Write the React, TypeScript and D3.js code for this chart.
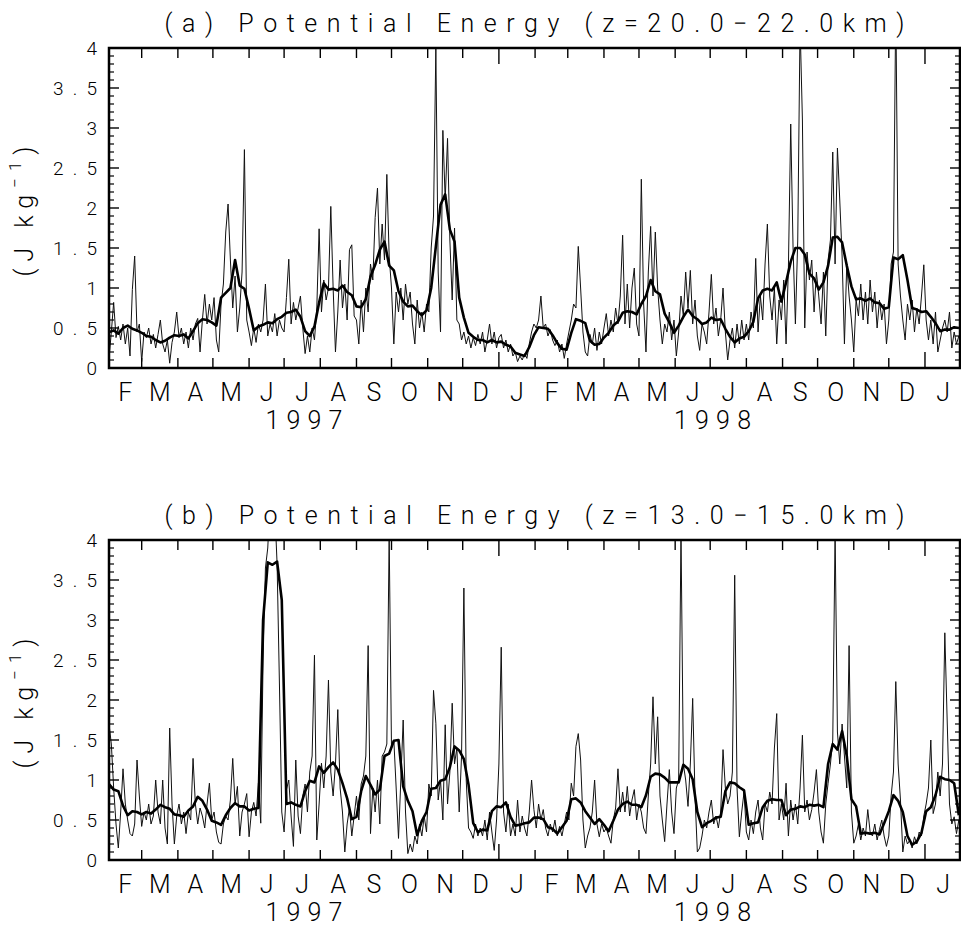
import React from 'react';
import * as d3 from 'd3';

// ---- Time base: samples start 1 Feb 1997 (UTC) ----
const START_MS = Date.UTC(1997, 1, 1);
const END_MS = Date.UTC(1999, 0, 31);
const DAY_MS = 86400000;
const THIN_STEP_DAYS = 2;
const THICK_STEP_DAYS = 4;

// ---- (a) z = 20.0-22.0 km : raw potential energy (2-day samples) ----
const thinA = [
  0.12, 0.45, 0.82, 0.38, 0.52, 0.35, 0.55, 0.3, 0.5, 0.15, 0.98, 1.4, 0.45, 0.55,
  0.08, 0.45, 0.38, 0.5, 0.3, 0.42, 0.25, 0.42, 0.6, 0.3, 0.2, 0.35, 0.06, 0.32, 0.45, 0.7,
  0.38, 0.5, 0.3, 0.45, 0.25, 0.5, 0.35, 0.55, 0.62, 0.2, 0.6, 0.92, 0.55, 0.8, 0.6,
  0.88, 0.35, 0.2, 0.8, 1.05, 1.7, 2.05, 1.35, 0.75, 1.15, 0.45, 0.75, 1.2, 2.73, 0.6,
  0.45, 0.28, 0.5, 0.32, 0.55, 0.45, 0.6, 1.05, 0.4, 0.55, 0.45, 0.68, 0.4, 0.6, 0.5,
  0.45, 0.88, 1.36, 0.55, 0.82, 0.6, 0.75, 0.9, 0.5, 0.18, 0.4, 0.2, 0.5, 0.35, 0.75, 1.74,
  0.7, 1.1, 0.85, 1.0, 2.02, 1.0, 0.2, 0.7, 1.35, 0.75, 1.05, 0.6, 1.48, 1.54, 0.65,
  0.6, 0.3, 0.85, 0.45, 1.0, 0.7, 1.3, 1.1, 1.88, 2.25, 1.3, 1.8, 1.35, 2.42, 1.4,
  1.0, 0.3, 0.95, 0.7, 1.0, 0.6, 1.05, 0.8, 0.95, 0.55, 0.3, 0.85, 0.5, 0.7, 0.45, 0.8,
  0.7, 1.5, 1.9, 4.0, 1.2, 0.45, 2.97, 2.1, 2.87, 1.6, 0.85, 1.75, 0.6, 0.55, 0.35,
  0.45, 0.3, 0.4, 0.25, 0.38, 0.28, 0.42, 0.3, 0.45, 0.2, 0.35, 0.55, 0.3, 0.45, 0.25,
  0.38, 0.42, 0.25, 0.35, 0.2, 0.3, 0.15, 0.2, 0.08, 0.15, 0.1, 0.18, 0.12, 0.3, 0.45, 0.55,
  0.5, 0.6, 0.9, 0.5, 0.55, 0.4, 0.48, 0.35, 0.28, 0.35, 0.2, 0.3, 0.12, 0.3,
  0.45, 0.6, 0.8, 0.75, 1.52, 1.0, 0.45, 0.2, 0.15, 0.42, 0.3, 0.5, 0.22, 0.45, 0.3,
  0.5, 0.68, 0.4, 0.6, 0.45, 0.75, 0.55, 0.9, 1.66, 0.55, 1.05, 0.5, 1.0, 1.25, 0.55,
  0.4, 2.36, 0.8, 0.2, 1.2, 1.77, 0.9, 1.7, 1.0, 0.6, 0.3, 0.55, 0.45, 0.7, 0.35, 0.6,
  0.15, 0.45, 0.9, 0.65, 1.2, 0.75, 1.22, 0.55, 0.85, 0.4, 0.22, 0.55, 0.45, 0.3, 0.7,
  1.17, 0.55, 0.75, 0.4, 0.6, 1.0, 0.45, 0.1, 0.35, 0.5, 0.25, 0.55, 0.3, 0.6, 0.35,
  0.55, 0.35, 0.7, 0.5, 1.37, 0.45, 0.9, 0.6, 1.3, 1.8, 0.9, 0.6, 1.0, 0.3, 0.85, 0.6,
  1.1, 0.3, 1.25, 3.05, 1.5, 0.55, 1.6, 4.3, 3.1, 0.5, 1.45, 1.1, 1.35, 0.7, 1.2,
  0.9, 0.55, 1.2, 0.4, 1.35, 1.6, 2.7, 1.3, 2.75, 2.1, 1.4, 0.3, 1.3, 0.9, 0.6,
  0.2, 0.85, 0.65, 1.05, 0.6, 0.95, 0.55, 1.1, 0.7, 0.95, 0.5, 0.85, 0.6, 0.8, 0.3,
  0.6, 1.3, 1.45, 4.6, 1.3, 0.9, 0.6, 0.35, 0.8, 0.6, 0.85, 0.45, 0.75, 0.55, 0.9, 1.29,
  0.6, 0.35, 0.6, 0.3, 0.7, 0.2, 0.35, 0.5, 0.6, 0.45, 0.7, 0.25, 0.45, 0.3, 0.4,
];

// ---- (a) smoothed curve (4-day samples) ----
const thickA = [
  0.45, 0.47, 0.43, 0.5, 0.53, 0.49, 0.47, 0.44, 0.4, 0.39, 0.35, 0.32, 0.34, 0.38, 0.41,
  0.4, 0.42, 0.37, 0.46, 0.56, 0.61, 0.6, 0.57, 0.53, 0.88, 0.94, 1.0, 1.35, 1.03, 0.99,
  0.74, 0.47, 0.52, 0.54, 0.57, 0.56, 0.61, 0.64, 0.69, 0.7, 0.73, 0.64, 0.46, 0.4, 0.52,
  0.82, 1.06, 0.98, 0.99, 0.97, 1.03, 0.95, 0.91, 0.77, 0.76, 0.86, 1.14, 1.29, 1.48, 1.58,
  1.28, 1.22, 0.96, 0.83, 0.77, 0.78, 0.71, 0.66, 0.72, 1.0, 1.52, 2.04, 2.17, 1.73, 1.58,
  0.88, 0.63, 0.44, 0.39, 0.35, 0.35, 0.32, 0.35, 0.32, 0.33, 0.29, 0.27, 0.19, 0.17, 0.15,
  0.26, 0.41, 0.51, 0.5, 0.49, 0.41, 0.31, 0.24, 0.23, 0.44, 0.61, 0.59, 0.56, 0.34, 0.29,
  0.3, 0.38, 0.44, 0.53, 0.58, 0.69, 0.71, 0.7, 0.67, 0.8, 0.9, 1.1, 0.96, 0.92, 0.68,
  0.57, 0.44, 0.53, 0.64, 0.73, 0.65, 0.61, 0.55, 0.57, 0.63, 0.6, 0.61, 0.49, 0.39, 0.32,
  0.37, 0.39, 0.46, 0.58, 0.87, 0.97, 0.99, 0.97, 1.07, 0.83, 1.07, 1.33, 1.5, 1.5, 1.42,
  1.18, 1.12, 0.98, 1.07, 1.28, 1.63, 1.64, 1.57, 1.28, 1.02, 0.86, 0.87, 0.84, 0.87, 0.82,
  0.81, 0.74, 0.76, 1.38, 1.36, 1.41, 1.1, 0.75, 0.73, 0.7, 0.71, 0.64, 0.56, 0.46, 0.48,
  0.48, 0.51, 0.5,
];

// ---- (b) z = 13.0-15.0 km : raw potential energy (2-day samples) ----
const thinB = [
  1.7, 1.45, 0.9, 0.45, 0.15, 0.6, 1.14, 0.7, 0.5, 0.33, 0.3, 0.45, 1.25, 0.8,
  0.42, 0.6, 0.5, 0.7, 0.45, 0.55, 1.0, 0.6, 0.45, 1.0, 0.4, 0.2, 1.65, 0.7, 0.2, 0.55,
  0.7, 0.45, 0.6, 0.33, 0.6, 0.5, 1.27, 0.7, 0.45, 0.65, 0.55, 0.4, 0.7, 0.96, 0.5,
  0.6, 0.35, 0.22, 0.2, 0.45, 0.55, 0.5, 0.75, 1.27, 0.7, 0.92, 0.3, 0.6, 0.7, 0.83,
  0.29, 0.6, 0.72, 0.55, 0.96, 0.46, 2.5, 3.65, 3.9, 4.5, 4.6, 4.4, 3.7, 2.2, 0.6,
  0.35, 0.88, 1.0, 0.55, 0.17, 1.25, 0.55, 0.33, 0.8, 0.95, 0.6, 1.1, 1.3, 2.56, 0.25, 0.7,
  1.21, 0.9, 1.3, 2.25, 1.1, 0.8, 1.2, 1.88, 0.9, 0.6, 0.1, 0.45, 0.65, 0.3, 0.55,
  0.8, 0.5, 0.95, 1.05, 1.3, 2.68, 0.33, 0.9, 0.6, 1.0, 0.45, 1.3, 1.35, 1.45, 4.05,
  1.4, 1.5, 0.9, 0.27, 1.0, 1.75, 0.6, 0.08, 0.2, 0.1, 0.3, 0.2, 0.45, 0.3, 0.55, 0.35,
  0.95, 0.8, 2.12, 1.71, 0.75, 1.0, 0.5, 1.69, 0.7, 1.1, 1.96, 1.2, 1.4, 0.6, 1.3,
  3.4, 1.0, 0.4, 0.35, 0.27, 0.45, 0.3, 0.4, 0.3, 0.5, 0.25, 0.6, 0.35, 0.12, 0.5,
  1.2, 2.66, 0.6, 0.35, 0.7, 0.3, 0.45, 0.3, 0.75, 0.35, 0.55, 0.4, 0.3, 0.6, 1.0, 0.63,
  0.4, 0.7, 0.5, 0.63, 0.4, 0.3, 0.45, 0.35, 0.5, 0.3, 0.42, 0.3, 0.45, 0.6,
  0.5, 0.96, 0.8, 1.42, 1.58, 1.25, 0.5, 0.15, 0.3, 0.4, 0.6, 1.0, 0.45, 0.29, 0.45,
  0.35, 0.4, 0.3, 0.21, 0.5, 0.65, 1.14, 0.6, 0.85, 0.6, 0.92, 0.55, 0.75, 0.88, 0.5,
  0.7, 0.6, 0.4, 0.33, 0.8, 1.2, 2.04, 1.2, 1.79, 0.8, 0.5, 0.23, 0.7, 1.13, 0.6, 0.33,
  0.9, 1.0, 4.1, 1.2, 1.0, 0.67, 1.2, 2.02, 0.8, 0.1, 0.15, 0.3, 0.5, 0.4, 0.6,
  0.75, 0.45, 0.55, 0.4, 0.6, 1.38, 0.9, 0.7, 0.8, 1.1, 3.56, 0.9, 0.29, 0.6, 0.85,
  0.35, 0.25, 0.5, 0.33, 0.6, 0.75, 0.4, 0.25, 0.7, 0.6, 0.85, 0.7, 1.4, 1.83, 0.5, 0.7,
  0.5, 0.96, 0.3, 0.75, 0.5, 0.7, 0.45, 0.9, 1.56, 0.6, 0.75, 0.5, 0.63, 0.85, 1.13,
  0.6, 0.35, 0.21, 0.7, 0.96, 1.2, 1.5, 4.1, 1.6, 1.2, 1.7, 1.3, 0.9, 2.68, 0.6,
  0.21, 0.3, 0.45, 0.25, 0.4, 0.3, 0.63, 0.35, 0.3, 0.45, 0.25, 0.38, 0.5, 0.3, 0.17,
  0.3, 0.8, 1.1, 2.23, 1.2, 0.75, 0.1, 0.3, 0.2, 0.25, 0.15, 0.29, 0.2, 0.35, 0.3, 0.55,
  0.7, 0.9, 1.5, 0.58, 0.7, 1.1, 0.8, 1.2, 2.84, 1.75, 0.7, 0.45, 0.54, 0.33, 0.5,
];

// ---- (b) smoothed curve (4-day samples) ----
const thickB = [
  0.95, 0.88, 0.86, 0.68, 0.56, 0.61, 0.6, 0.57, 0.6, 0.58, 0.63, 0.69, 0.66, 0.64, 0.57,
  0.56, 0.54, 0.62, 0.67, 0.79, 0.74, 0.63, 0.49, 0.47, 0.44, 0.56, 0.65, 0.71, 0.67, 0.67,
  0.62, 0.64, 0.65, 3.0, 3.72, 3.69, 3.73, 3.25, 0.7, 0.72, 0.69, 0.67, 0.86, 0.99, 0.97,
  1.17, 1.09, 1.16, 1.22, 1.13, 0.96, 0.77, 0.51, 0.54, 0.86, 1.05, 0.94, 0.82, 0.88, 1.3,
  1.33, 1.49, 1.5, 0.92, 0.74, 0.61, 0.31, 0.49, 0.6, 0.89, 0.9, 0.99, 1.01, 1.16, 1.42,
  1.37, 1.26, 0.94, 0.46, 0.35, 0.38, 0.37, 0.61, 0.67, 0.66, 0.72, 0.54, 0.43, 0.44, 0.46,
  0.47, 0.53, 0.53, 0.51, 0.41, 0.39, 0.33, 0.41, 0.49, 0.76, 0.77, 0.72, 0.61, 0.53, 0.45,
  0.51, 0.44, 0.36, 0.49, 0.63, 0.7, 0.73, 0.69, 0.69, 0.66, 0.81, 1.04, 1.08, 1.07, 1.03,
  0.97, 0.97, 0.97, 1.19, 1.14, 1.01, 0.6, 0.41, 0.46, 0.49, 0.53, 0.54, 0.86, 0.97, 0.96,
  0.91, 0.87, 0.44, 0.46, 0.47, 0.66, 0.74, 0.76, 0.75, 0.75, 0.56, 0.63, 0.64, 0.67, 0.66,
  0.69, 0.68, 0.69, 0.66, 1.2, 1.45, 1.38, 1.61, 1.3, 0.76, 0.67, 0.33, 0.34, 0.33, 0.34,
  0.32, 0.46, 0.61, 0.81, 0.74, 0.6, 0.3, 0.19, 0.23, 0.34, 0.61, 0.66, 0.81, 1.04, 1.01,
  1.0, 0.96, 0.56,
];

// ---- Axis labels ----
const monthInitials = ['J', 'F', 'M', 'A', 'M', 'J', 'J', 'A', 'S', 'O', 'N', 'D'];
const yearLabels = [
  { text: '1997', date: Date.UTC(1997, 6, 18) },
  { text: '1998', date: Date.UTC(1998, 6, 3) },
];
const yMajorTicks = [0, 0.5, 1, 1.5, 2, 2.5, 3, 3.5, 4];
const yMinorTicks = d3.range(0, 40).map((k) => k / 10).filter((v) => Math.round(v * 10) % 5 !== 0);

const panels = [
  { id: 'a', title: '(a) Potential Energy (z=20.0\u221222.0km)', top: 48, thin: thinA, thick: thickA },
  { id: 'b', title: '(b) Potential Energy (z=13.0\u221215.0km)', top: 540, thin: thinB, thick: thickB },
];

const W = 961;
const H = 935;
const LEFT = 109;
const RIGHT = 960;
const PLOT_H = 320;
const FONT = "'Roboto', 'Open Sans', 'DejaVu Sans', sans-serif";

const x = d3.scaleUtc().domain([new Date(START_MS), new Date(END_MS)]).range([LEFT, RIGHT]);

const monthStarts = d3.utcMonth.range(new Date(START_MS), new Date(END_MS + DAY_MS));
const boundaryTicks = monthStarts.filter((d) => +d > START_MS);

function Panel({ p }: { p: (typeof panels)[number] }) {
  const top = p.top;
  const bottom = top + PLOT_H;
  const y = d3.scaleLinear().domain([0, 4]).range([bottom, top]);

  const thinLine = d3
    .line<number>()
    .x((_, i) => x(new Date(START_MS + i * THIN_STEP_DAYS * DAY_MS)))
    .y((v) => y(v));
  const thickLine = d3
    .line<number>()
    .x((_, i) => x(new Date(START_MS + i * THICK_STEP_DAYS * DAY_MS)))
    .y((v) => y(v));

  const clipId = `clip-${p.id}`;
  const midY = (top + bottom) / 2;

  return (
    <g>
      <defs>
        <clipPath id={clipId}>
          <rect x={LEFT} y={top} width={RIGHT - LEFT} height={PLOT_H} />
        </clipPath>
      </defs>

      {/* title */}
      <text
        x={(LEFT + RIGHT) / 2}
        y={top - 16}
        textAnchor="middle"
        fontFamily={FONT}
        fontWeight={300}
        fontSize={25}
        textLength={740}
        lengthAdjust="spacing"
        fill="#000"
      >
        {p.title}
      </text>

      {/* data */}
      <g clipPath={`url(#${clipId})`}>
        <path d={thinLine(p.thin) || ''} fill="none" stroke="#111" strokeWidth={1} strokeLinejoin="round" />
        <path d={thickLine(p.thick) || ''} fill="none" stroke="#000" strokeWidth={2.6} strokeLinejoin="round" />
      </g>

      {/* y ticks, both sides, pointing inward */}
      {yMinorTicks.map((v) => (
        <g key={`mn${v}`} stroke="#000" strokeWidth={1.2}>
          <line x1={LEFT} x2={LEFT + 5} y1={y(v)} y2={y(v)} />
          <line x1={RIGHT} x2={RIGHT - 5} y1={y(v)} y2={y(v)} />
        </g>
      ))}
      {yMajorTicks.map((v) => (
        <g key={`mj${v}`} stroke="#000" strokeWidth={1.4}>
          <line x1={LEFT} x2={LEFT + 10} y1={y(v)} y2={y(v)} />
          <line x1={RIGHT} x2={RIGHT - 10} y1={y(v)} y2={y(v)} />
        </g>
      ))}
      {yMajorTicks.map((v) => {
        const s = String(v);
        return (
          <text
            key={`yl${v}`}
            x={97}
            y={y(v)}
            dy="0.36em"
            textAnchor="end"
            fontFamily={FONT}
            fontWeight={300}
            fontSize={19}
            textLength={s.length > 1 ? 44 : undefined}
            lengthAdjust="spacing"
            fill="#000"
          >
            {s}
          </text>
        );
      })}

      {/* x ticks at month boundaries; January boundaries longer */}
      {boundaryTicks.map((d) => {
        const len = d.getUTCMonth() === 0 ? 16 : 10;
        const xx = x(d);
        return (
          <g key={`xt${+d}`} stroke="#000" strokeWidth={1.4}>
            <line x1={xx} x2={xx} y1={bottom} y2={bottom - len} />
            <line x1={xx} x2={xx} y1={top} y2={top + len} />
          </g>
        );
      })}

      {/* month initials centred in each month */}
      {monthStarts.map((d) => {
        const next = d3.utcMonth.offset(d, 1);
        const cx = x(new Date((+d + +next) / 2));
        return (
          <text
            key={`ml${+d}`}
            x={cx}
            y={bottom + 33}
            textAnchor="middle"
            fontFamily={FONT}
            fontWeight={300}
            fontSize={25}
            fill="#000"
          >
            {monthInitials[d.getUTCMonth()]}
          </text>
        );
      })}

      {yearLabels.map((yl) => (
        <text
          key={yl.text}
          x={x(new Date(yl.date))}
          y={bottom + 61}
          textAnchor="middle"
          fontFamily={FONT}
          fontWeight={300}
          fontSize={25}
          textLength={77}
          lengthAdjust="spacing"
          fill="#000"
        >
          {yl.text}
        </text>
      ))}

      {/* y axis title */}
      <text
        transform={`translate(24, ${midY}) rotate(-90)`}
        textAnchor="middle"
        dominantBaseline="central"
        fontFamily={FONT}
        fontWeight={300}
        fontSize={25}
        letterSpacing={7}
        fill="#000"
      >
        (J kg
        <tspan fontSize={17} dy={-9}>
          {'\u22121'}
        </tspan>
        <tspan dy={9}>)</tspan>
      </text>

      {/* frame */}
      <rect x={LEFT} y={top} width={RIGHT - LEFT} height={PLOT_H} fill="none" stroke="#000" strokeWidth={2.5} />
    </g>
  );
}

export default function App() {
  return (
    <svg
      width={W}
      height={H}
      viewBox={`0 0 ${W} ${H}`}
      style={{ position: 'absolute', left: 0, top: 0, background: '#fff' }}
    >
      <rect x={0} y={0} width={W} height={H} fill="#fff" />
      {panels.map((p) => (
        <Panel key={p.id} p={p} />
      ))}
    </svg>
  );
}
